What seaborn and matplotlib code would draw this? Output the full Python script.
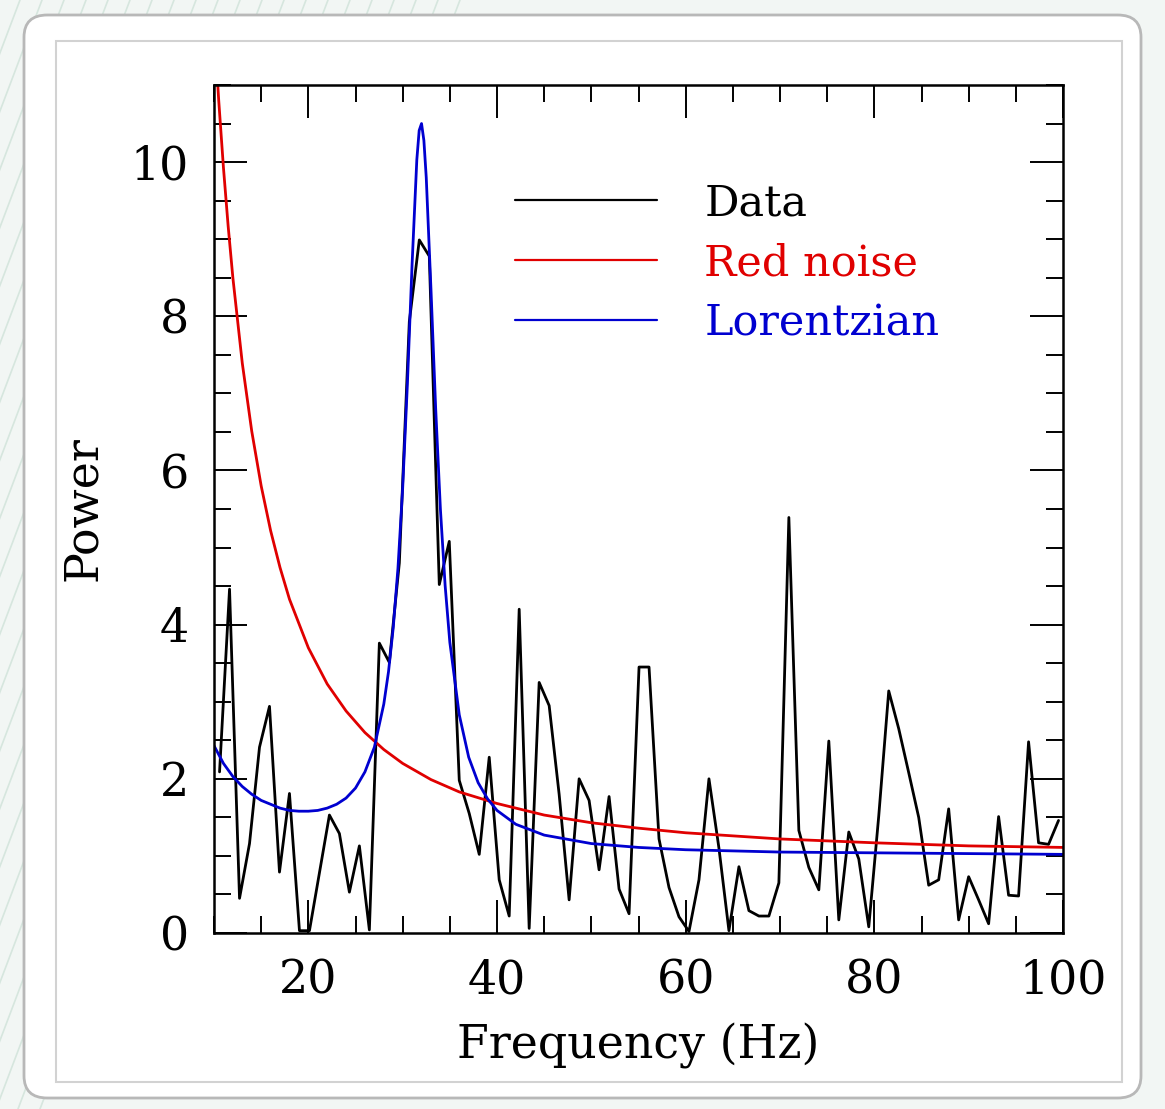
import matplotlib
matplotlib.use("Agg")
import matplotlib.pyplot as plt
from matplotlib.patches import FancyBboxPatch, Rectangle
from matplotlib.ticker import MultipleLocator
import numpy as np
import seaborn as sns

# power spectrum, one value per frequency bin (bins 10..94, step ~1.0588 Hz)
bin_step = 1.0588
bins = np.arange(10, 95)
power = [2.09, 4.46, 0.45, 1.16, 2.41, 2.94, 0.79, 1.81, 0.03, 0.03,
         0.78, 1.53, 1.29, 0.53, 1.13, 0.04, 3.76, 3.51, 4.80, 7.93,
         8.99, 8.78, 4.52, 5.08, 1.98, 1.55, 1.02, 2.28, 0.69, 0.22,
         4.20, 0.06, 3.25, 2.95, 1.80, 0.43, 2.00, 1.72, 0.82, 1.77,
         0.57, 0.25, 3.45, 3.45, 1.22, 0.59, 0.21, 0.02, 0.69, 2.00,
         1.10, 0.03, 0.86, 0.29, 0.22, 0.22, 0.65, 5.39, 1.33, 0.85,
         0.56, 2.49, 0.17, 1.31, 0.96, 0.08, 1.52, 3.14, 2.65, 2.08,
         1.50, 0.62, 0.69, 1.61, 0.17, 0.73, 0.43, 0.12, 1.51, 0.49,
         0.48, 2.48, 1.17, 1.15, 1.46]
freq = bin_step * bins

# red noise model
red_f = [10, 10.5, 11, 11.5, 12, 13, 14, 15, 16, 17, 18, 20, 22, 24, 26, 28,
         30, 33, 36, 40, 45, 50, 55, 60, 70, 80, 90, 100]
red_p = [11.80, 10.80, 9.93, 9.17, 8.50, 7.39, 6.51, 5.80, 5.22, 4.74, 4.33,
         3.70, 3.23, 2.88, 2.60, 2.38, 2.20, 1.99, 1.83, 1.68, 1.53, 1.43,
         1.36, 1.30, 1.22, 1.17, 1.13, 1.11]

# lorentzian model
lor_f = [10, 11, 12, 13, 14, 15, 16, 17, 18, 19, 20, 21, 22, 23, 24, 25, 26,
         27, 28, 28.5, 29, 29.5, 30, 30.5, 31, 31.5, 31.75, 32, 32.25, 32.5,
         33, 33.5, 34, 34.5, 35, 36, 37, 38, 39, 40, 42, 45, 50, 55, 60, 70,
         80, 90, 100]
lor_p = [2.43, 2.20, 2.03, 1.90, 1.80, 1.72, 1.67, 1.62, 1.59, 1.58, 1.58,
         1.59, 1.62, 1.67, 1.75, 1.88, 2.09, 2.41, 2.97, 3.39, 3.96, 4.73,
         5.77, 7.12, 8.68, 10.03, 10.41, 10.50, 10.28, 9.80, 8.35, 6.80,
         5.50, 4.51, 3.77, 2.83, 2.28, 1.95, 1.74, 1.59, 1.41, 1.27, 1.16,
         1.11, 1.08, 1.05, 1.04, 1.03, 1.02]

sns.set_style("ticks")
plt.rcParams['font.family'] = ['DejaVu Serif']

W, H = 1165, 1109
fig = plt.figure(figsize=(W / 100, H / 100), dpi=100)
fig.patch.set_facecolor("#f2f6f4")

# faint diagonal stripes of the page background
for x0 in range(-400, 60, 22):
    fig.add_artist(plt.Line2D([x0 / W, (x0 + 420) / W], [0, 1],
                              transform=fig.transFigure, color="#d6e6de",
                              lw=1.2, zorder=-3))

# slide-like frame behind the plot
fig.patches.append(FancyBboxPatch((24 / W, 1 - 1098 / H), 1117 / W, 1083 / H,
                                  boxstyle="round,pad=0,rounding_size=0.02",
                                  transform=fig.transFigure, facecolor="white",
                                  edgecolor="#b8b8b8", lw=2, zorder=-2))
fig.patches.append(Rectangle((56 / W, 1 - 1082 / H), 1066 / W, 1041 / H,
                             transform=fig.transFigure, facecolor="white",
                             edgecolor="#d2d2d2", lw=1.5, zorder=-1))

ax = fig.add_axes([214 / W, 1 - 933 / H, 849 / W, 848 / H])
ax.set_facecolor("white")

sns.lineplot(x=freq, y=power, ax=ax, color="black", lw=2.0, label="Data")
sns.lineplot(x=red_f, y=red_p, ax=ax, color="#e00000", lw=2.0, label="Red noise")
sns.lineplot(x=lor_f, y=lor_p, ax=ax, color="#0000d0", lw=2.0, label="Lorentzian")

ax.set_xlim(10, 100)
ax.set_ylim(0, 11)
ax.xaxis.set_major_locator(MultipleLocator(20))
ax.xaxis.set_minor_locator(MultipleLocator(5))
ax.yaxis.set_major_locator(MultipleLocator(2))
ax.yaxis.set_minor_locator(MultipleLocator(0.5))
ax.tick_params(which="both", direction="in", top=True, right=True,
               width=1.4, colors="black", labelsize=33, pad=18)
ax.tick_params(which="major", length=24)
ax.tick_params(which="minor", length=12)
for s in ax.spines.values():
    s.set_linewidth(1.8)
    s.set_color("black")

ax.set_xlabel("Frequency (Hz)", fontsize=33, labelpad=14, color="black")
ax.set_ylabel("Power", fontsize=33, labelpad=18, color="black")

leg = ax.legend(loc="upper left", bbox_to_anchor=(515 / W, 1 - 182 / H),
                bbox_transform=fig.transFigure, frameon=False, fontsize=31,
                handlelength=3.3, handletextpad=1.1, labelspacing=0.42,
                borderpad=0, borderaxespad=0, labelcolor="linecolor")
for h in leg.get_lines():
    h.set_linewidth(1.6)

fig.savefig("out.png", dpi=100, facecolor=fig.get_facecolor())
